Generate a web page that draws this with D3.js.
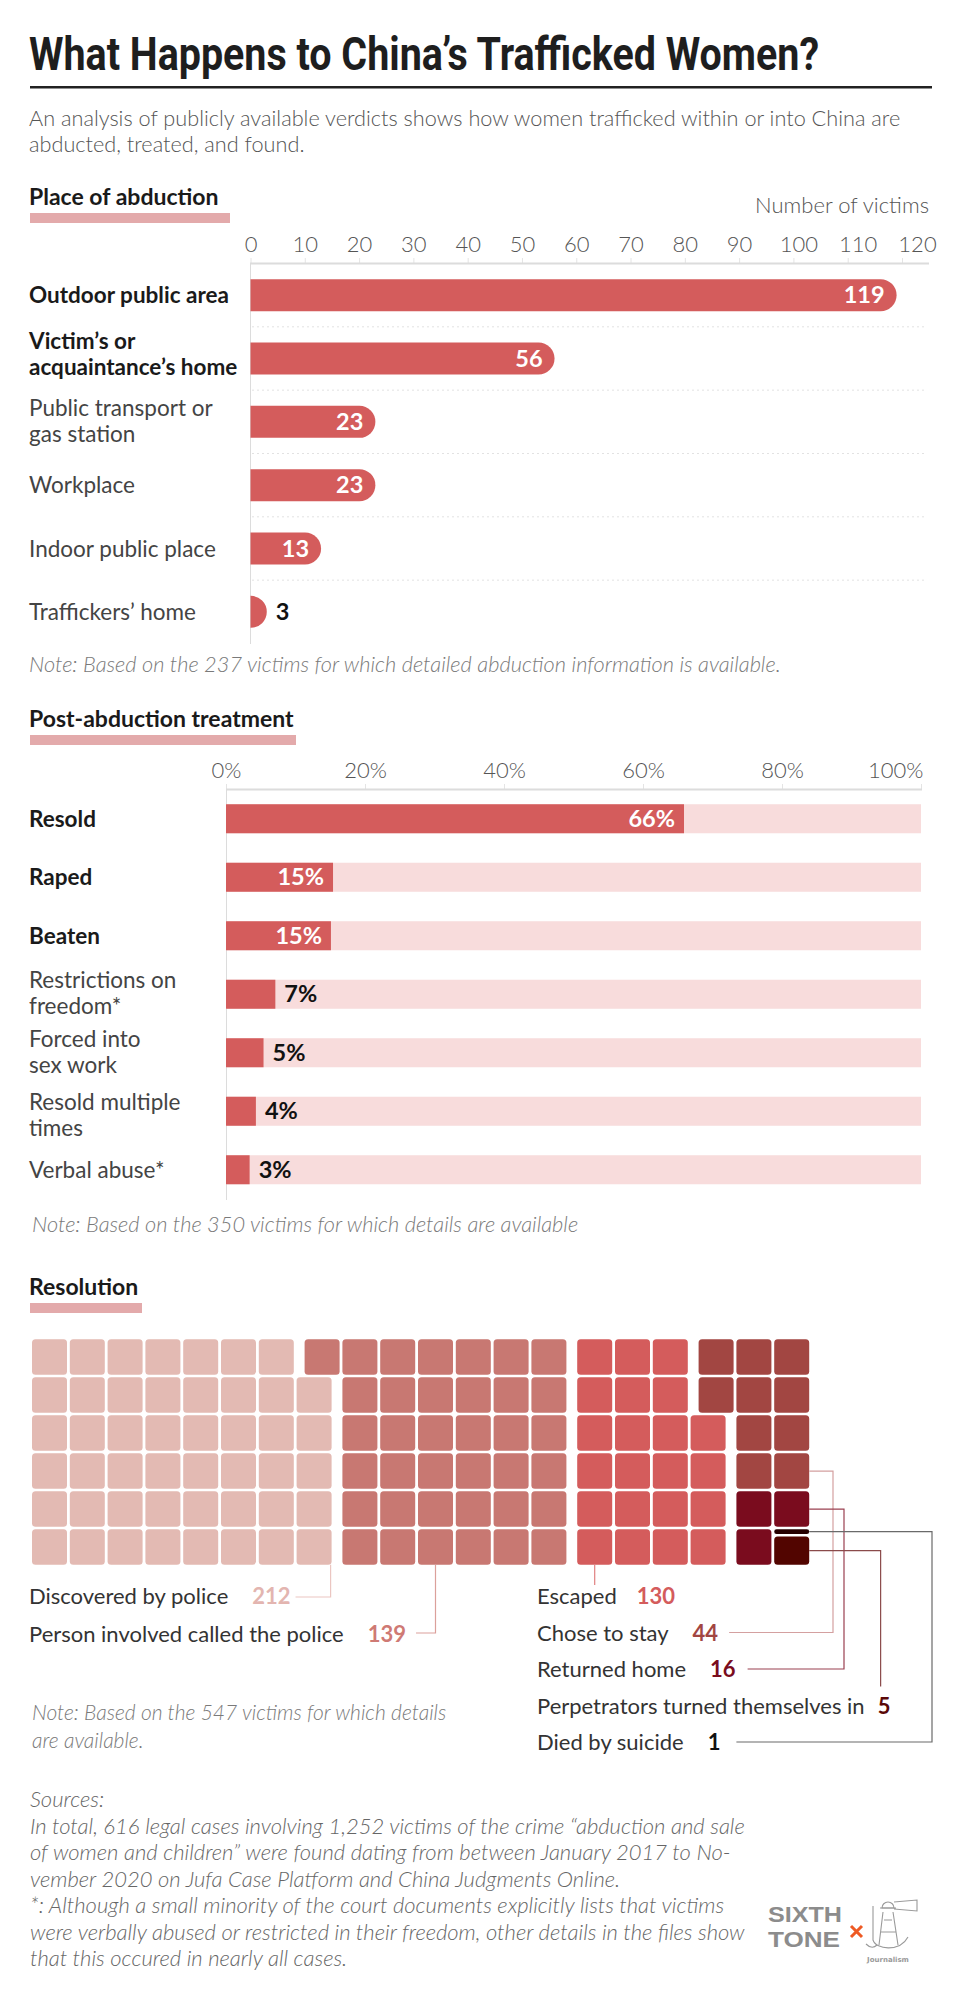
<!DOCTYPE html>
<html><head><meta charset="utf-8">
<script src="https://cdn.jsdelivr.net/npm/d3@7"></script>
<style>
body{margin:0;background:#fff;}
svg{display:block;}
</style></head><body>
<svg id="chart" width="958" height="2000"></svg>
<script>
// ---------- DATA ----------
const abductionPlaces = ["Outdoor public area", "Victim’s or\nacquaintance’s home", "Public transport or\ngas station", "Workplace", "Indoor public place", "Traffickers’ home"];
const abductionCounts = [119, 56, 23, 23, 13, 3];
const abductionTicks = [0, 10, 20, 30, 40, 50, 60, 70, 80, 90, 100, 110, 120];

const treatments = ["Resold", "Raped", "Beaten", "Restrictions on\nfreedom*", "Forced into\nsex work", "Resold multiple\ntimes", "Verbal abuse*"];
const treatmentShares = [65.9, 15.4, 15.1, 7.1, 5.4, 4.3, 3.4];
const treatmentTicks = [0, 20, 40, 60, 80, 100];

const resolutions = ["Discovered by police", "Person involved called the police", "Escaped", "Chose to stay", "Returned home", "Perpetrators turned themselves in", "Died by suicide"];
const resolutionCounts = [212, 139, 130, 44, 16, 5, 1];
const resolutionCells = [47, 37, 22, 10, 3, 5/6, 1/6];

// ---------- STYLE ----------
const svg = d3.select("#chart");
const FONT = "Lato, 'Open Sans', sans-serif";
const INK = "#1a1a1a", MID = "#444", SOFT = "#555", NOTE = "#7a7a7a";
const RED = "#d45c5c", PINKBG = "#f8dcdc", HEAD = "#e3aaab";
const resColor = d3.scaleOrdinal().domain(resolutions)
  .range(["#e3bab3", "#c87872", "#d45c5c", "#a24642", "#7a0c1e", "#520500", "#260000"]);
const numColor = d3.scaleOrdinal().domain(resolutions)
  .range(["#e3b5b0", "#cf7a74", "#d45c5c", "#a24642", "#7a0c1e", "#5a0808", "#111"]);
const leadColor = d3.scaleOrdinal().domain(resolutions)
  .range(["#ebc6c1", "#dba09b", "#e08080", "#d4a0a0", "#9a4050", "#8a4a4a", "#6a6a6a"]);

function txt(x, y, s, o = {}) {
  const t = svg.append("text").attr("x", x).attr("y", y)
    .attr("font-family", o.family || FONT).attr("font-size", o.size || 20)
    .attr("font-weight", o.weight || 400).attr("fill", o.fill || INK)
    .attr("text-anchor", o.anchor || "start");
  if (o.italic) t.attr("font-style", "italic");
  if (o.len) t.attr("textLength", o.len).attr("lengthAdjust", "spacingAndGlyphs");
  t.text(s);
  return t;
}

// ---------- TITLE ----------
txt(29, 70, "What Happens to China’s Trafficked Women?", {family: "Roboto, sans-serif", weight: 700, size: 46, fill: "#1e1e1e", len: 790});
svg.append("rect").attr("x", 30).attr("y", 86).attr("width", 902).attr("height", 2.5).attr("fill", "#222");
txt(29, 126, "An analysis of publicly available verdicts shows how women trafficked within or into China are", {weight: 300, size: 21.7, fill: SOFT});
txt(29, 152, "abducted, treated, and found.", {weight: 300, size: 21.7, fill: SOFT});

function header(s, y, w) {
  txt(29, y, s, {weight: 700, size: 23, fill: INK});
  svg.append("rect").attr("x", 30).attr("y", y + 8).attr("width", w).attr("height", 10).attr("fill", HEAD);
}

const LABEL = 22.5;
function labelLines(x, cy, s, bold, fill) {
  const lines = s.split("\n");
  const t = svg.append("text").attr("font-family", FONT).attr("font-size", LABEL)
    .attr("font-weight", bold ? 700 : 400).attr("fill", fill);
  if (lines.length === 1) {
    t.append("tspan").attr("x", x).attr("y", cy + 8).text(lines[0]);
  } else {
    const up = bold ? 10 : 6;
    t.append("tspan").attr("x", x).attr("y", cy - up).text(lines[0]);
    t.append("tspan").attr("x", x).attr("y", cy - up + 26).text(lines[1]);
  }
}

// ---------- SECTION 1: PLACE OF ABDUCTION ----------
header("Place of abduction", 205, 200);
txt(929, 213, "Number of victims", {weight: 300, size: 22, fill: SOFT, anchor: "end"});

const x1 = d3.scaleLinear().domain([0, 120]).range([250.5, 902]);
const y1 = d3.scaleBand().domain(abductionPlaces).range([263.5, 643.5]).paddingInner(0.495).paddingOuter(0.2475);

const ax1 = svg.append("g").attr("transform", "translate(0,263)")
  .call(d3.axisTop(x1).tickValues(abductionTicks).tickSize(5).tickPadding(6));
ax1.select(".domain").remove();
ax1.selectAll("line").attr("stroke", "#e4e4e4");
ax1.selectAll("text").attr("font-family", FONT).attr("font-weight", 300).attr("font-size", 22).attr("fill", SOFT)
  .attr("dx", d => d >= 100 ? (d - 90) * 0.5 : 0);
svg.append("line").attr("x1", 250).attr("x2", 929).attr("y1", 263.5).attr("y2", 263.5).attr("stroke", "#dcdcdc").attr("stroke-width", 2);
svg.append("line").attr("x1", 250.5).attr("x2", 250.5).attr("y1", 263).attr("y2", 644).attr("stroke", "#dcdcdc");

const step1 = y1.step(), bw1 = y1.bandwidth();
abductionPlaces.slice(0, -1).forEach(c => {
  const yy = y1(c) + bw1 + (step1 - bw1) / 2;
  svg.append("line").attr("x1", 252).attr("x2", 926).attr("y1", yy).attr("y2", yy)
    .attr("stroke", "#e2e2e2").attr("stroke-dasharray", "2,3");
});

function roundRight(x0, x1, y, h) {
  const r = Math.min(h / 2, x1 - x0);
  return `M${x0},${y}H${x1 - r}A${r},${r} 0 0 1 ${x1},${y + r}V${y + h - r}A${r},${r} 0 0 1 ${x1 - r},${y + h}H${x0}Z`;
}

svg.append("g").selectAll("path").data(abductionPlaces).join("path")
  .attr("d", (c, i) => roundRight(x1(0), x1(abductionCounts[i]), y1(c), bw1))
  .attr("fill", RED);

const VAL = 23.5;
abductionPlaces.forEach((c, i) => {
  const v = abductionCounts[i], cy = y1(c) + bw1 / 2;
  if (v >= 10) txt(x1(v) - 12, cy + 8, String(v), {weight: 700, size: VAL, fill: "#fff", anchor: "end"});
  else txt(x1(v) + 9, cy + 8, String(v), {weight: 700, size: VAL, fill: "#111"});
  labelLines(29, cy, c, i < 2, i < 2 ? INK : MID);
});

txt(29, 672, "Note: Based on the 237 victims for which detailed abduction information is available.", {weight: 300, size: 21.8, fill: NOTE, italic: true});

// ---------- SECTION 2: POST-ABDUCTION TREATMENT ----------
header("Post-abduction treatment", 727, 266);
const x2 = d3.scaleLinear().domain([0, 100]).range([226, 921]);
const y2 = d3.scaleBand().domain(treatments).range([789.5, 1199]).paddingInner(0.504).paddingOuter(0.252);

const ax2 = svg.append("g").attr("transform", "translate(0,789)")
  .call(d3.axisTop(x2).tickValues(treatmentTicks).tickSize(5).tickPadding(6).tickFormat(d => d + "%"));
ax2.select(".domain").remove();
ax2.selectAll("line").attr("stroke", "#e4e4e4");
ax2.selectAll("text").attr("font-family", FONT).attr("font-weight", 300).attr("font-size", 22).attr("fill", SOFT)
  .attr("text-anchor", d => d === 100 ? "end" : "middle").attr("dx", d => d === 100 ? 2 : 0);
svg.append("line").attr("x1", 226).attr("x2", 922).attr("y1", 789.5).attr("y2", 789.5).attr("stroke", "#dcdcdc").attr("stroke-width", 2);
svg.append("line").attr("x1", 226.5).attr("x2", 226.5).attr("y1", 789).attr("y2", 1200).attr("stroke", "#dcdcdc");

const bw2 = y2.bandwidth();
svg.append("g").selectAll("rect").data(treatments).join("rect")
  .attr("x", x2(0)).attr("y", c => y2(c)).attr("width", x2(100) - x2(0)).attr("height", bw2).attr("fill", PINKBG);
svg.append("g").selectAll("rect").data(treatments).join("rect")
  .attr("x", x2(0)).attr("y", c => y2(c)).attr("width", (c, i) => x2(treatmentShares[i]) - x2(0)).attr("height", bw2).attr("fill", RED);

treatments.forEach((c, i) => {
  const v = treatmentShares[i], cy = y2(c) + bw2 / 2, lab = Math.round(v) + "%";
  if (v >= 10) txt(x2(v) - 9, cy + 8, lab, {weight: 700, size: VAL, fill: "#fff", anchor: "end"});
  else txt(x2(v) + 9, cy + 8, lab, {weight: 700, size: VAL, fill: "#111"});
  labelLines(29, cy + (i === 5 ? 5 : 0), c, i < 3, i < 3 ? INK : MID);
});

txt(32, 1232, "Note: Based on the 350 victims for which details are available", {weight: 300, size: 21.8, fill: NOTE, italic: true});

// ---------- SECTION 3: RESOLUTION (WAFFLE) ----------
header("Resolution", 1295, 112);

const ROWS = 6, COLS = 20, ROWWISE_FROM = 18;
const colX = d3.scaleLinear().domain([0, 1]).range([32, 69.8]);
const rowY = d3.scaleLinear().domain([0, 1]).range([1339.3, 1377.3]);
const CW = 35, CH = 35.5, GAP = 8;
// fill order: first 18 columns bottom-to-top, last two columns row by row
const slots = [];
for (let c = 0; c < ROWWISE_FROM; c++) for (let r = ROWS - 1; r >= 0; r--) slots.push({c, r});
for (let r = 0; r < ROWS; r++) for (let c = ROWWISE_FROM; c < COLS; c++) slots.push({c, r});

const pieces = [];
let pos = 0;
resolutions.forEach((name, g) => {
  const start = pos, end = pos + resolutionCells[g];
  pos = end;
  for (let s = Math.floor(start + 1e-6); s < end - 1e-6; s++) {
    const f0 = Math.max(start, s) - s, f1 = Math.min(end, s + 1) - s;
    const sl = slots[s];
    const x = colX(sl.c) + GAP * Math.min(g, 3);
    const top = rowY(sl.r);
    let y0 = top + CH * (1 - f1), y1b = top + CH * (1 - f0);
    if (f1 < 0.999) y0 += 1.2;
    if (f0 > 0.001) y1b -= 1.2;
    pieces.push({name, g, c: sl.c, r: sl.r, x, y: y0, h: y1b - y0});
  }
});

svg.append("g").selectAll("rect").data(pieces).join("rect")
  .attr("x", d => d.x).attr("y", d => d.y).attr("width", CW).attr("height", d => d.h)
  .attr("rx", d => Math.min(3.5, d.h / 2)).attr("fill", d => resColor(d.name));

// labels
const leftX = 29, rightX = 537;
const labelPos = resolutions.map((n, g) => g < 2 ? {x: leftX, y: 1604 + 38 * g} : {x: rightX, y: 1604 + 36.5 * (g - 2)});
const numStarts = [], numEnds = [];
resolutions.forEach((n, g) => {
  const p = labelPos[g];
  const t = txt(p.x, p.y, n, {weight: 400, size: 22, fill: "#333"});
  const w = t.node().getComputedTextLength();
  const gap = g === 5 ? 13 : (g === 2 ? 20 : 24);
  const nt = txt(p.x + w + gap, p.y, String(resolutionCounts[g]), {weight: 700, size: 22, fill: numColor(n)});
  numStarts.push(p.x + w + gap);
  numEnds.push(p.x + w + gap + nt.node().getComputedTextLength());
});

// leader lines
const waffleBottom = rowY(ROWS - 1) + CH;
const waffleRight = d3.max(pieces, d => d.x + CW);
function lead(n, pts) {
  svg.append("path").attr("d", d3.line()(pts)).attr("fill", "none")
    .attr("stroke", leadColor(n)).attr("stroke-width", 1.2);
}
function bottomCells(g) { return pieces.filter(d => d.g === g && d.r === ROWS - 1).sort((a, b) => a.x - b.x); }
{
  const b = bottomCells(0), xx = b[b.length - 1].x + CW - 1, yy = labelPos[0].y - 7;
  lead(resolutions[0], [[xx, waffleBottom], [xx, yy], [numEnds[0] + 5, yy]]);
}
{
  const b = bottomCells(1), xx = b[2].x + CW / 2, yy = labelPos[1].y - 9;
  lead(resolutions[1], [[xx, waffleBottom], [xx, yy], [numEnds[1] + 10, yy]]);
}
{
  const b = bottomCells(2), xx = b[0].x + CW / 2;
  lead(resolutions[2], [[xx, waffleBottom], [xx, labelPos[2].y - 19]]);
}
function pieceMid(g, which) {
  const p = which(pieces.filter(d => d.g === g));
  return p.y + p.h / 2;
}
{
  const g = 3, ex = 833, yy = pieceMid(g, ps => ps.filter(d => d.c === COLS - 1).sort((a, b) => b.r - a.r)[0]), ly = labelPos[g].y - 8;
  lead(resolutions[g], [[waffleRight, yy], [ex, yy], [ex, ly], [numEnds[g] + 11, ly]]);
}
{
  const g = 4, ex = 844, yy = pieceMid(g, ps => ps.filter(d => d.c === COLS - 1)[0]), ly = labelPos[g].y - 8;
  lead(resolutions[g], [[waffleRight, yy], [ex, yy], [ex, ly], [numEnds[g] + 12, ly]]);
}
{
  const g = 5, ex = numStarts[g] + 3, yy = pieceMid(g, ps => ps[0]);
  lead(resolutions[g], [[waffleRight, yy], [ex, yy], [ex, labelPos[g].y - 27]]);
}
{
  const g = 6, ex = 932, yy = pieceMid(g, ps => ps[0]), ly = labelPos[g].y - 8;
  lead(resolutions[g], [[waffleRight, yy], [ex, yy], [ex, ly], [numEnds[g] + 16, ly]]);
}

txt(32, 1720, "Note: Based on the 547 victims for which details", {weight: 300, size: 21, fill: NOTE, italic: true});
txt(32, 1748, "are available.", {weight: 300, size: 21, fill: NOTE, italic: true});

// ---------- SOURCES ----------
const sourceLines = [
  "Sources:",
  "In total, 616 legal cases involving 1,252 victims of the crime “abduction and sale",
  "of women and children” were found dating from between January 2017 to No-",
  "vember 2020 on Jufa Case Platform and China Judgments Online.",
  "*: Although a small minority of the court documents explicitly lists that victims",
  "were verbally abused or restricted in their freedom, other details in the files show",
  "that this occured in nearly all cases."
];
sourceLines.forEach((s, i) => txt(30, 1807 + 26.5 * i, s, {weight: 300, size: 22, fill: "#666", italic: true}));

// ---------- LOGO ----------
txt(768, 1922, "SIXTH", {family: "'Liberation Sans', Arial, sans-serif", weight: 700, size: 22, fill: "#8c8c8c", len: 74});
txt(768, 1947, "TONE", {family: "'Liberation Sans', Arial, sans-serif", weight: 700, size: 22, fill: "#8c8c8c", len: 72});
svg.append("path").attr("d", "M851,1926L862,1937M862,1926L851,1937").attr("stroke", "#ee5a24").attr("stroke-width", 3);
const lh = svg.append("g").attr("fill", "none").attr("stroke", "#9a9a9a").attr("stroke-width", 1.1);
lh.append("path").attr("d", "M882,1908 a6,6 0 0 1 12,0 Z");
lh.append("path").attr("d", "M880,1908H896M894,1902L917,1900V1911L894,1909");
lh.append("path").attr("d", "M883,1912L879,1945M893,1912L898,1945M884,1920H892M881,1932H896");
lh.append("path").attr("d", "M873,1906V1940C876,1950 900,1952 908,1937");
lh.append("path").attr("d", "M866,1944C870,1948 874,1948 877,1945");
txt(888, 1962, "Journalism", {family: "'DejaVu Sans', sans-serif", weight: 700, size: 7, fill: "#9a9a9a", anchor: "middle"});
</script>
</body></html>
